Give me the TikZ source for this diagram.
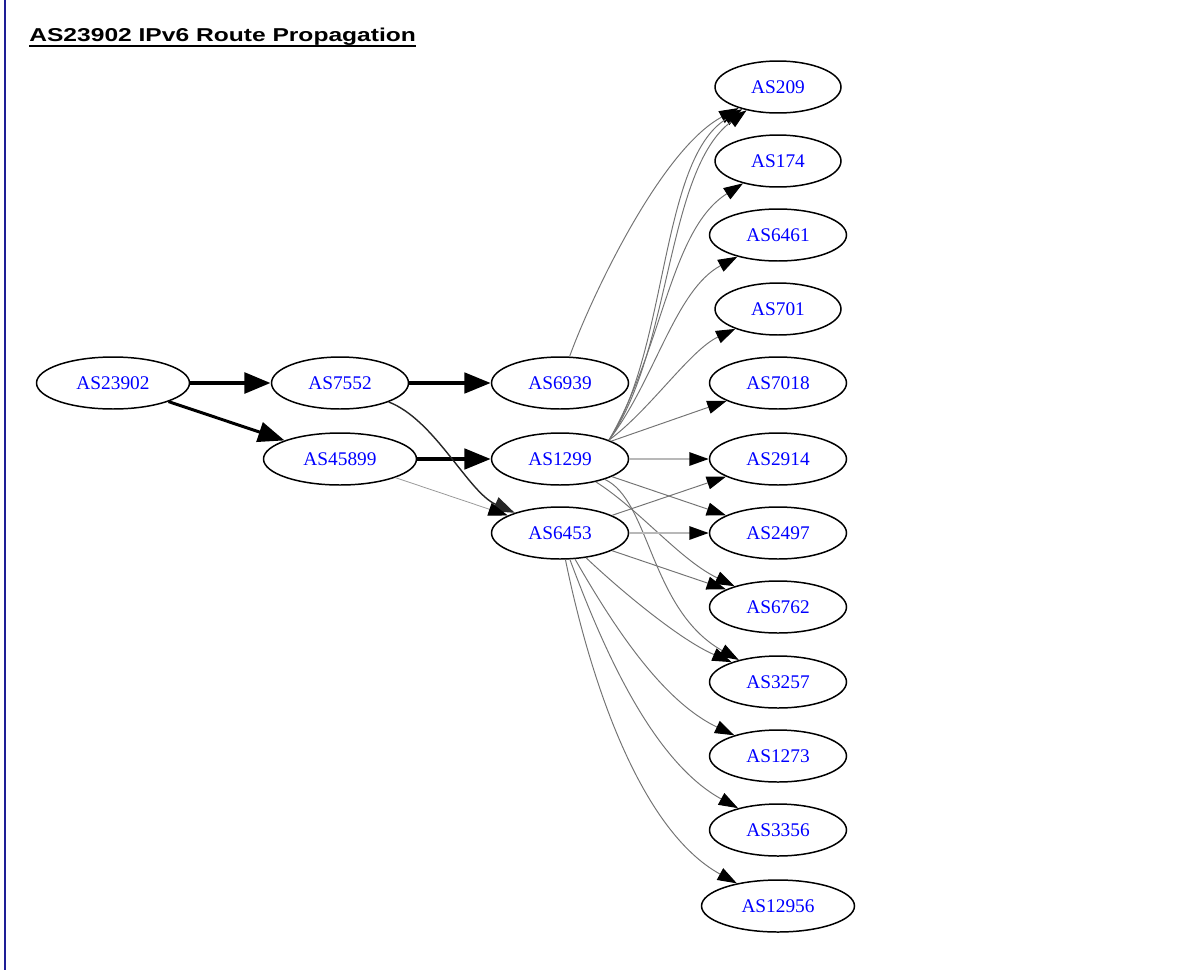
\documentclass[tikz,border=0pt]{standalone}
\usepackage{fontspec}
\setmainfont{Liberation Serif}
\newfontfamily\titlefont[FakeStretch=1.32]{Liberation Sans}
\usepackage{tikz}
\usetikzlibrary{shapes.geometric, arrows.meta, positioning}

\begin{document}
\begin{tikzpicture}[x=0.02cm, y=0.02cm,
    as/.style={ellipse, draw, line width=0.85pt, inner sep=0pt, minimum height=1.04cm,
      text=blue, font=\fontsize{11}{13}\selectfont},
    asthree/.style={as, minimum width=2.52cm},
    asfour/.style={as, minimum width=2.74cm},
    asfive/.style={as, minimum width=3.06cm},
    link/.style={-{Triangle[length=11pt, width=7.5pt, color=black]}, draw=black!55, line width=0.55pt},
    pale/.style={-{Triangle[length=11pt, width=7.5pt, color=black]}, draw=black!28, line width=1.2pt},
    dark/.style={-{Triangle[length=12pt, width=8.5pt]}, draw=black!85, line width=0.8pt},
    heavy/.style={-{Triangle[length=15pt, width=11.5pt]}, line width=#1},
    heavy/.default=2.4pt]
    \useasboundingbox (0,0) rectangle (1202,-970);
    \draw[color={rgb,255:red,30;green,30;blue,150}, line width=1.2pt] (5,0) -- (5,-970);

    % title
    \node[anchor=base west, inner sep=0pt, font=\titlefont\bfseries\fontsize{10.6}{12}\selectfont] (title) at (29,-41) {AS23902 IPv6 Route Propagation};
    \draw[line width=1.1pt] ([yshift=-2.8pt]title.base west) -- ([yshift=-2.8pt]title.base east);

    % origin and transit
    \node[asfive] (as23902) at (113,-383) {AS23902};
    \node[asfour] (as7552) at (340,-383) {AS7552};
    \node[asfive] (as45899) at (340,-459) {AS45899};
    \node[asfour] (as6939) at (560,-383) {AS6939};
    \node[asfour] (as1299) at (560,-459) {AS1299};
    \node[asfour] (as6453) at (560,-533) {AS6453};

    % upstream peers
    \node[asthree] (as209) at (778,-87) {AS209};
    \node[asthree] (as174) at (778,-161) {AS174};
    \node[asfour] (as6461) at (778,-235) {AS6461};
    \node[asthree] (as701) at (778,-309) {AS701};
    \node[asfour] (as7018) at (778,-383) {AS7018};
    \node[asfour] (as2914) at (778,-459) {AS2914};
    \node[asfour] (as2497) at (778,-533) {AS2497};
    \node[asfour] (as6762) at (778,-607) {AS6762};
    \node[asfour] (as3257) at (778,-682) {AS3257};
    \node[asfour] (as1273) at (778,-756) {AS1273};
    \node[asfour] (as3356) at (778,-830) {AS3356};
    \node[asfive] (as12956) at (778,-906) {AS12956};

    % heavy paths
    \draw[heavy=2.8pt] (as23902) -- (as7552);
    \draw[heavy=1.7pt] (as23902) -- (as45899);
    \draw[heavy] (as7552) -- (as6939);
    \draw[heavy] (as45899) -- (as1299);
    \draw[dark] (as7552) .. controls (435,-420) and (468,-492) .. (as6453);
    \draw[link, draw=black!40, line width=0.45pt] (as45899) -- (as6453);

    % from AS6939 and AS1299
    \draw[link] (as6939) .. controls (590,-300) and (660,-150) .. (as209);
    \draw[link] (as1299.north east) .. controls (668,-350) and (660,-160) .. (as209);
    \draw[link] (as1299.north east) .. controls (672,-350) and (666,-170) .. (as209);
    \draw[link] (as1299.north east) .. controls (664,-345) and (670,-230) .. (as174);
    \draw[link] (as1299.north east) .. controls (655,-380) and (675,-290) .. (as6461);
    \draw[link] (as1299.north east) .. controls (650,-410) and (690,-350) .. (as701);
    \draw[link] (as1299) -- (as7018);
    \draw[pale] (as1299) -- (as2914);
    \draw[link] (as1299) -- (as2497);
    \draw[link] (as1299) .. controls (640,-510) and (680,-560) .. (as6762);
    \draw[link] (as1299) .. controls (650,-500) and (650,-610) .. (as3257);

    % from AS6453
    \draw[link] (as6453) -- (as2914);
    \draw[pale] (as6453) -- (as2497);
    \draw[link] (as6453) -- (as6762);
    \draw[link] (as6453) .. controls (620,-590) and (680,-640) .. (as3257);
    \draw[link] (as6453) .. controls (610,-620) and (660,-700) .. (as1273);
    \draw[link] (as6453) .. controls (600,-640) and (650,-760) .. (as3356);
    \draw[link] (as6453) .. controls (590,-680) and (640,-830) .. (as12956);
\end{tikzpicture}
\end{document}
